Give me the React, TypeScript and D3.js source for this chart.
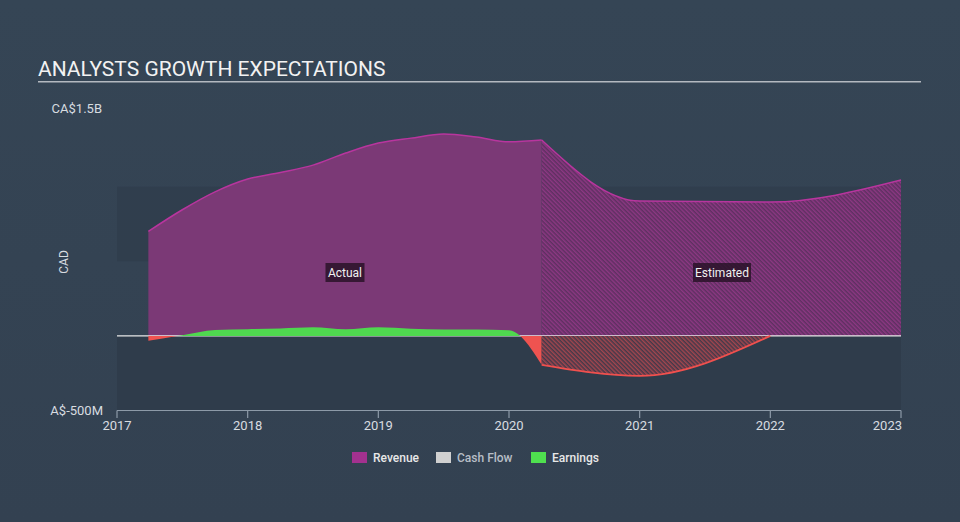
import React from "react";
import * as d3 from "d3";

const W = 960;
const H = 522;

const yearTicks = [2017, 2018, 2019, 2020, 2021, 2022, 2023];
const yTickLabels = ["CA$1.5B", "A$-500M"];

// Revenue (CA$ millions)
const revenueActualX = [2017.24, 2017.5, 2017.75, 2018.0, 2018.25, 2018.5, 2018.75, 2019.0, 2019.25, 2019.5, 2019.75, 2020.0, 2020.25];
const revenueActualY = [700, 845, 965, 1051, 1095, 1144, 1225, 1292, 1325, 1352, 1332, 1300, 1312];
const revenueEstX = [2020.25, 2021.0, 2022.0, 2023.0];
const revenueEstY = [1312, 903, 897, 1044];

// Earnings (CA$ millions)
const earningsActualX = [2017.24, 2017.5, 2017.75, 2018.0, 2018.25, 2018.5, 2018.75, 2019.0, 2019.25, 2019.5, 2019.75, 2020.0, 2020.25];
const earningsActualY = [-33, 5, 40, 45, 50, 58, 45, 58, 48, 42, 42, 38, -194];
const earningsEstX = [2020.25, 2021.0, 2022.0];
const earningsEstY = [-194, -268, 0];

const legendItems = [
  { label: "Revenue", color: "#a3318f", text: "#e8e8e8" },
  { label: "Cash Flow", color: "#d0d0d0", text: "#b8bec6" },
  { label: "Earnings", color: "#4fe04f", text: "#e8e8e8" },
];

const FONT = "Roboto, 'Noto Sans', sans-serif";

export default function App() {
  const x = d3.scaleLinear().domain([2017, 2023]).range([117, 901]);
  const y = d3.scaleLinear().domain([-500, 1500]).range([410.5, 112]);
  const y0 = y(0);

  const zip = (xs: number[], ys: number[]) => xs.map((v, i) => [v, ys[i]] as [number, number]);
  const revA = zip(revenueActualX, revenueActualY);
  const revE = zip(revenueEstX, revenueEstY);
  const earnA = zip(earningsActualX, earningsActualY);
  const earnE = zip(earningsEstX, earningsEstY);

  const area = d3
    .area<[number, number]>()
    .x((d) => x(d[0]))
    .y0(y0)
    .y1((d) => y(d[1]))
    .curve(d3.curveMonotoneX);
  const line = d3
    .line<[number, number]>()
    .x((d) => x(d[0]))
    .y((d) => y(d[1]))
    .curve(d3.curveMonotoneX);

  return (
    <div style={{ position: "absolute", left: 0, top: 0 }}>
      <svg width={W} height={H} style={{ display: "block" }}>
        <defs>
          <linearGradient id="bg" x1="0" y1="0" x2="0" y2="1">
            <stop offset="0" stopColor="#354555" />
            <stop offset="1" stopColor="#334151" />
          </linearGradient>
          <pattern id="hatchPurple" width="3" height="3" patternUnits="userSpaceOnUse" patternTransform="rotate(-45)">
            <rect width="3" height="3" fill="#5e3061" />
            <line x1="0.75" y1="0" x2="0.75" y2="3" stroke="#8f3885" strokeWidth="1.4" />
          </pattern>
          <pattern id="hatchRed" width="3" height="3" patternUnits="userSpaceOnUse" patternTransform="rotate(-45)">
            <rect width="3" height="3" fill="#43394a" />
            <line x1="0.75" y1="0" x2="0.75" y2="3" stroke="#a8464e" strokeWidth="1.4" />
          </pattern>
          <clipPath id="above">
            <rect x={0} y={0} width={W} height={y0} />
          </clipPath>
          <clipPath id="below">
            <rect x={0} y={y0} width={W} height={H - y0} />
          </clipPath>
        </defs>
        <rect width={W} height={H} fill="url(#bg)" />

        {/* Title */}
        <text x={38} y={76} fill="#f2f2f2" fontFamily={FONT} fontSize={21}>
          ANALYSTS GROWTH EXPECTATIONS
        </text>
        <rect x={38} y={81} width={883} height={1.5} fill="#b4b9c0" />

        {/* bands */}
        <rect x={x(2017)} y={y(1000)} width={x(2023) - x(2017)} height={y(500) - y(1000)} fill="#2f3c4b" opacity={0.7} />
        <rect x={x(2017)} y={y0} width={x(2023) - x(2017)} height={y(-500) - y0} fill="#2f3c4b" />

        {/* Revenue */}
        <path d={area(revA) || ""} fill="#7b3976" />
        <path d={area(revE) || ""} fill="url(#hatchPurple)" />
        <path d={line(revA) || ""} fill="none" stroke="#b8359e" strokeWidth={1.5} />
        <path d={line(revE) || ""} fill="none" stroke="#b8359e" strokeWidth={1.5} />

        {/* zero line */}
        <line x1={x(2017)} x2={x(2023)} y1={y0} y2={y0} stroke="#e8e8e8" strokeWidth={1.2} />

        {/* Earnings */}
        <g clipPath="url(#above)">
          <path d={area(earnA) || ""} fill="#4fd84f" />
        </g>
        <g clipPath="url(#below)">
          <path d={area(earnA) || ""} fill="#ef5350" />
          <path d={area(earnE) || ""} fill="url(#hatchRed)" />
        </g>
        <path d={line(earnE) || ""} fill="none" stroke="#f0504e" strokeWidth={1.8} />

        {/* Actual / Estimated labels */}
        {[
          { t: "Actual", cx: 345, w: 39 },
          { t: "Estimated", cx: 722, w: 58 },
        ].map((l) => (
          <g key={l.t}>
            <rect x={l.cx - l.w / 2} y={263} width={l.w} height={19} fill="#2a1329" opacity={0.85} />
            <text x={l.cx} y={276.5} textAnchor="middle" fill="#f0f0f0" fontFamily={FONT} fontSize={12}>
              {l.t}
            </text>
          </g>
        ))}

        {/* Y labels */}
        <text x={102} y={113} textAnchor="end" fill="#d8dce0" fontFamily={FONT} fontSize={13}>
          {yTickLabels[0]}
        </text>
        <text x={103} y={415} textAnchor="end" fill="#d8dce0" fontFamily={FONT} fontSize={13}>
          {yTickLabels[1]}
        </text>
        <text
          transform={`translate(68,262) rotate(-90)`}
          textAnchor="middle"
          fill="#d8dce0"
          fontFamily={FONT}
          fontSize={12}
        >
          CAD
        </text>

        {/* X axis */}
        <line x1={x(2017)} x2={x(2023)} y1={410.5} y2={410.5} stroke="#8d9aa8" strokeWidth={1.2} />
        {yearTicks.map((t) => (
          <g key={t}>
            <line x1={x(t)} x2={x(t)} y1={410.5} y2={418} stroke="#8d9aa8" strokeWidth={1.2} />
            <text
              x={t === 2023 ? x(t) + 1 : x(t)}
              y={430}
              textAnchor={t === 2023 ? "end" : "middle"}
              fill="#d8dce0"
              fontFamily={FONT}
              fontSize={13}
            >
              {t}
            </text>
          </g>
        ))}

        {/* Legend */}
        {(() => {
          const xs = [352, 436, 531];
          return legendItems.map((it, i) => (
            <g key={it.label}>
              <rect x={xs[i]} y={452} width={15} height={11} fill={it.color} />
              <text x={xs[i] + 21} y={462} fill={it.text} fontFamily={FONT} fontSize={12} fontWeight={500}>
                {it.label}
              </text>
            </g>
          ));
        })()}
      </svg>
    </div>
  );
}
